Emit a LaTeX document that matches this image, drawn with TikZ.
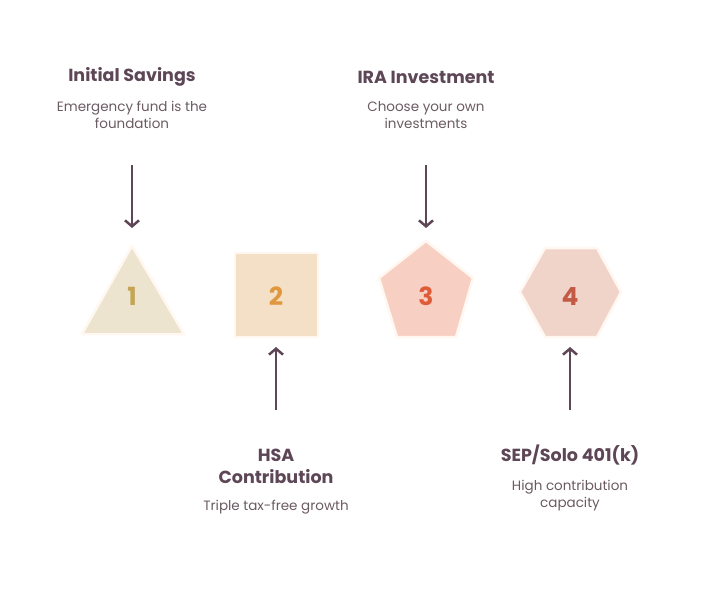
\documentclass[tikz,border=0pt]{standalone}
\usepackage{fontspec}
\setmainfont{Poppins}
\usetikzlibrary{arrows.meta}
\definecolor{ink}{HTML}{5D4656}
\definecolor{txt}{HTML}{6A5A62}
\tikzset{
  shp/.style={draw=white!94!orange, line width=2.5pt, line join=round},
  num/.style={font=\bfseries\fontsize{25}{25}\selectfont},
  ttl/.style={font=\bfseries\fontsize{17.5}{22}\selectfont, text=ink, align=center},
  sub/.style={font=\fontsize{13.5}{16.5}\selectfont, text=txt, align=center},
  arr/.style={draw=ink, line width=2.5pt, -{Straight Barb[length=6pt,width=14pt,line width=2.5pt]}}
}
\begin{document}
\begin{tikzpicture}[x=1pt,y=-1pt]
\useasboundingbox (0,0) rectangle (708,588);

%Shapes
\draw[shp, fill={rgb,255:red,236;green,228;blue,206}] (132,246) -- (184,334) -- (82,334) -- cycle;
\draw[shp, fill={rgb,255:red,244;green,224;blue,198}] (235,253) rectangle (318,337);
\draw[shp, fill={rgb,255:red,247;green,208;blue,195}] (426,241) -- (473,278) -- (456,337) -- (397,337) -- (379,278) -- cycle;
\draw[shp, fill={rgb,255:red,240;green,212;blue,202}] (545,248) -- (597,248) -- (621,292) -- (597,337) -- (545,337) -- (520,292) -- cycle;

% Numbers
\node[num, text={rgb,255:red,195;green,165;blue,85}] (n1) at (132,296) {1};
\node[num, text={rgb,255:red,224;green,152;blue,62}] (n2) at (276,296) {2};
\node[num, text={rgb,255:red,224;green,92;blue,56}] (n3) at (426,296) {3};
\node[num, text={rgb,255:red,196;green,90;blue,70}] (n4) at (570,296) {4};

% Labels
\node[ttl] (t1) at (132,77) {Initial Savings};
\node[sub, anchor=north] (s1) at (132,98) {Emergency fund is the\\foundation};
\node[ttl] (t3) at (426,77) {IRA Investment};
\node[sub, anchor=north] (s3) at (426,98) {Choose your own\\investments};
\node[ttl] (t2) at (276,466) {HSA\\Contribution};
\node[sub] (s2) at (276,507) {Triple tax-free growth};
\node[ttl] (t4) at (570,455) {SEP/Solo 401(k)};
\node[sub, anchor=north] (s4) at (570,477) {High contribution\\capacity};

% Arrows
\coordinate (a1) at (132,165); \coordinate (b1) at (132,228);
\coordinate (a3) at (426,165); \coordinate (b3) at (426,228);
\coordinate (a2) at (276,410); \coordinate (b2) at (276,347);
\coordinate (a4) at (570,410); \coordinate (b4) at (570,347);
\foreach \i in {1,2,3,4} \draw[arr] (a\i) -- (b\i);
\end{tikzpicture}
\end{document}
